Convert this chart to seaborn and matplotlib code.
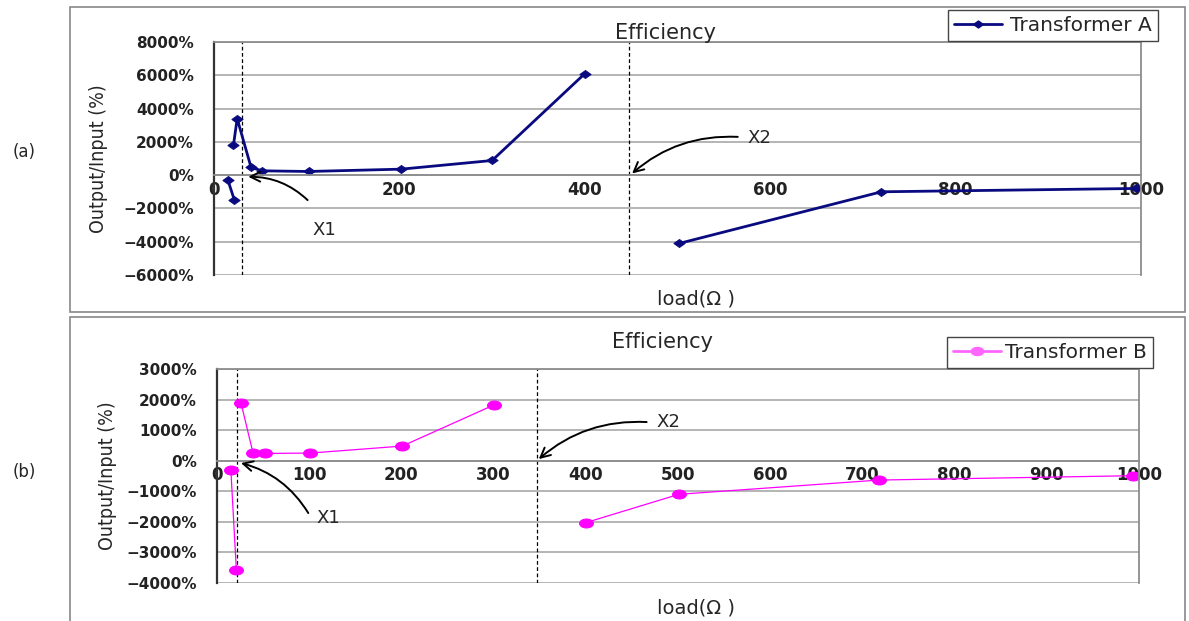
import numpy as np
import pandas as pd
import seaborn as sns
import matplotlib.pyplot as plt
from matplotlib.lines import Line2D
from matplotlib.patches import Rectangle
from matplotlib.path import Path
from matplotlib.transforms import Affine2D
from matplotlib.ticker import FuncFormatter

# Transformer A: load (ohm) vs output/input (%), split into line segments
load_a = [15, 22, 21, 25, 40, 52, 102, 202, 300, 400, 502, 720, 995]
eff_a = [-300, -1500, 1800, 3400, 460, 260, 220, 360, 880, 6100, -4100, -1000, -800]
seg_a = [1, 1, 2, 2, 2, 2, 2, 2, 2, 2, 3, 3, 3]
marks_a = [30, 448]  # X1, X2
yticks_a = [-6000, -4000, -2000, 0, 2000, 4000, 6000, 8000]
xticks_a = [0, 200, 400, 600, 800, 1000]

# Transformer B
load_b = [15, 21, 26, 39, 52, 101, 201, 300, 400, 501, 718, 994]
eff_b = [-290, -3580, 1900, 262, 240, 252, 482, 1826, -2030, -1100, -633, -490]
seg_b = [1, 1, 2, 2, 2, 2, 2, 2, 3, 3, 3, 3]
marks_b = [22, 347]
yticks_b = [-4000, -3000, -2000, -1000, 0, 1000, 2000, 3000]
xticks_b = [0, 100, 200, 300, 400, 500, 600, 700, 800, 900, 1000]

df_a = pd.DataFrame({"load": load_a, "eff": eff_a, "seg": seg_a})
df_b = pd.DataFrame({"load": load_b, "eff": eff_b, "seg": seg_b})

sns.set_style("white")
plt.rcParams["font.family"] = ["DejaVu Sans"]

W, H = 1189, 621
fig = plt.figure(figsize=(W / 100, H / 100), dpi=100)

# chart area frames
fig.patches.append(Rectangle((70 / W, 1 - 312 / H), 1115 / W, 305 / H, transform=fig.transFigure,
                             fill=False, edgecolor="#888888", lw=1.2))
fig.patches.append(Rectangle((70 / W, -0.02), 1115 / W, 1 - 317 / H + 0.02, transform=fig.transFigure,
                             fill=False, edgecolor="#888888", lw=1.2))

diamond = Path([(0, 1), (1.4, 0), (0, -1), (-1.4, 0), (0, 1)], closed=True)
ellipse = Path.unit_circle().transformed(Affine2D().scale(1.55, 1.0))

ax_a = fig.add_axes([214 / W, 1 - 275 / H, 927 / W, 233 / H])
ax_b = fig.add_axes([217 / W, 1 - 582.7 / H, 922 / W, 213.4 / H])


def pct(v, p):
    return f"{int(v)}%".replace("-", "\u2212")


def style_panel(ax, yticks, xticks, marks, label_x, label_y, xlab_y):
    ax.set_xlim(0, 1000)
    ax.set_ylim(yticks[0], yticks[-1])
    ax.set_yticks(yticks)
    ax.set_xticks(xticks)
    ax.set_xticklabels([str(t) for t in xticks])
    ax.yaxis.set_major_formatter(FuncFormatter(pct))
    ax.spines["bottom"].set_position(("data", 0))
    ax.grid(axis="y", color="#a0a0a0", lw=1.1)
    ax.grid(axis="x", visible=False)
    ax.set_axisbelow(True)
    for s in ["top", "right", "bottom"]:
        ax.spines[s].set_color("#8c8c8c")
        ax.spines[s].set_linewidth(1.3)
    ax.spines["left"].set_color("#333333")
    ax.spines["left"].set_linewidth(1.6)
    ax.tick_params(axis="x", direction="in", length=4, color="#555555", pad=4,
                   labelsize=12)
    ax.tick_params(axis="y", direction="out", length=3.6, color="#888888", pad=11,
                   labelsize=11)
    for t in ax.get_xticklabels() + ax.get_yticklabels():
        t.set_fontweight("bold")
        t.set_color("#222222")
    for m in marks:
        ax.axvline(m, color="black", ls=(0, (3, 2)), lw=0.9, zorder=1.5)
    ax.set_xlabel("load(Ω )", fontsize=14)
    ax.xaxis.set_label_coords(0.52, xlab_y)
    ax.set_ylabel("Output/Input (%)", fontsize=14, fontstretch="condensed")
    ax.yaxis.set_label_coords(label_x, label_y)


def arrow(ax, tip, tail, rad):
    ax.annotate("", xy=tip, xytext=tail,
                arrowprops=dict(arrowstyle="->,head_length=0.7,head_width=0.35",
                                color="black", lw=1.4, shrinkA=0, shrinkB=0,
                                connectionstyle=f"arc3,rad={rad}"))


# ---- panel (a)
sns.lineplot(data=df_a, x="load", y="eff", units="seg", estimator=None, sort=False,
             color="#0a0a80", marker=diamond, markersize=8, markeredgecolor="#0a0a80",
             linewidth=2.0, legend=False, ax=ax_a)
style_panel(ax_a, yticks_a, xticks_a, marks_a, -0.114, 0.5, -0.064)
ax_a.set_title("Efficiency", fontsize=15, x=0.487, pad=2)
arrow(ax_a, (37, -100), (101, -1500), 0.2)
ax_a.text(106, -3300, "X1", fontsize=13, va="center", ha="left")
arrow(ax_a, (451, 100), (565, 2300), 0.2)
ax_a.text(576, 2220, "X2", fontsize=13, va="center", ha="left")
ax_a.legend(handles=[Line2D([], [], color="#0a0a80", marker=diamond, ms=7, lw=2.0)],
            labels=["Transformer A"], loc="upper right",
            bbox_to_anchor=(1158 / W, 1 - 10 / H), bbox_transform=fig.transFigure,
            fontsize=14.5, frameon=True, fancybox=False, edgecolor="#444444", framealpha=1,
            handlelength=2.4, handletextpad=0.4, borderpad=0.3, borderaxespad=0)

# ---- panel (b)
sns.lineplot(data=df_b, x="load", y="eff", units="seg", estimator=None, sort=False,
             color="#ff00ff", marker=ellipse, markersize=10, markeredgecolor="#ff00ff",
             linewidth=0.9, legend=False, ax=ax_b)
style_panel(ax_b, yticks_b, xticks_b, marks_b, -0.108, 0.5, -0.072)
ax_b.set_title("Efficiency", fontsize=15, x=0.483, pad=15)
arrow(ax_b, (26, -75), (99, -1715), 0.2)
ax_b.text(108, -1890, "X1", fontsize=13, va="center", ha="left")
arrow(ax_b, (349, 55), (466, 1270), 0.2)
ax_b.text(477, 1270, "X2", fontsize=13, va="center", ha="left")
ax_b.legend(handles=[Line2D([], [], color="#ff66ff", marker=ellipse, ms=9, lw=2.0)],
            labels=["Transformer B"], loc="upper right",
            bbox_to_anchor=(1153 / W, 1 - 337 / H), bbox_transform=fig.transFigure,
            fontsize=14.5, frameon=True, fancybox=False, edgecolor="#444444", framealpha=1,
            handlelength=2.4, handletextpad=0.2, borderpad=0.3, borderaxespad=0)

fig.text(24 / W, 1 - 152 / H, "(a)", ha="center", va="center", fontsize=12)
fig.text(24 / W, 1 - 472 / H, "(b)", ha="center", va="center", fontsize=12)

fig.savefig("out.png", dpi=100)
